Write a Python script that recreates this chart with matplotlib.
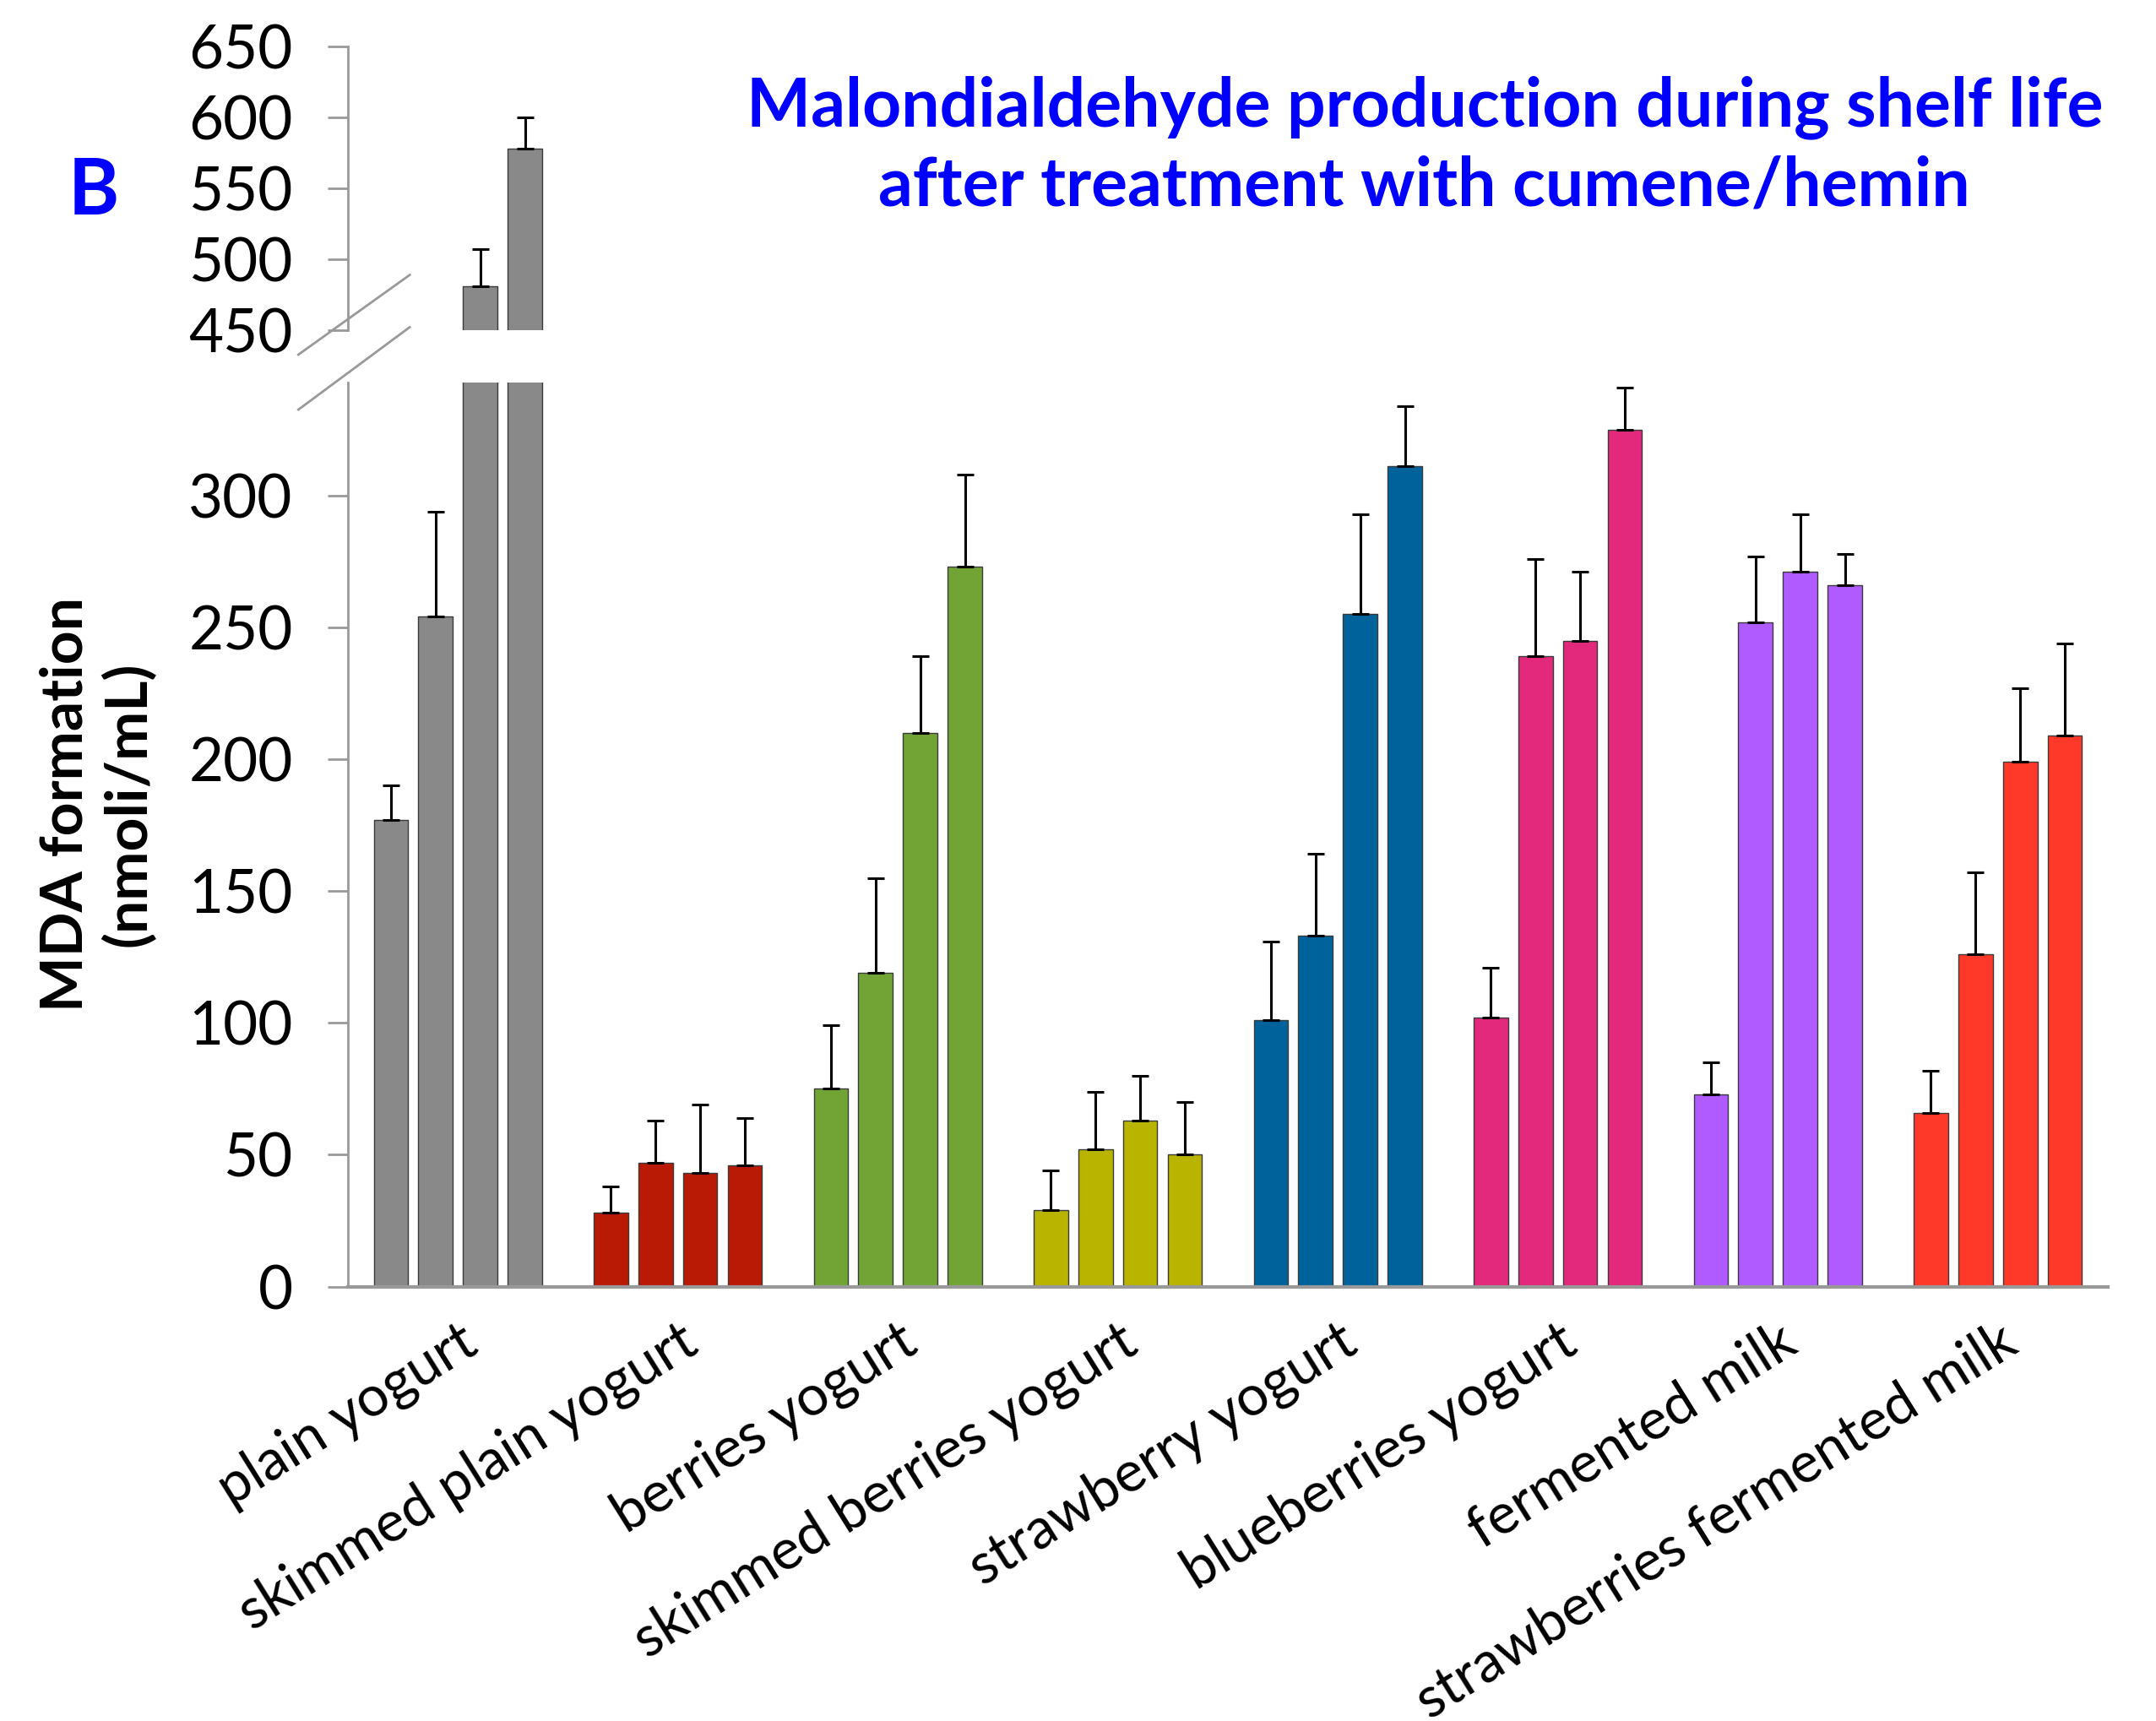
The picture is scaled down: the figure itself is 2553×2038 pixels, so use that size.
import matplotlib
matplotlib.use("Agg")
import matplotlib.pyplot as plt
import numpy as np
from matplotlib.lines import Line2D

categories = ["plain yogurt", "skimmed plain yogurt", "berries yogurt",
              "skimmed berries yogurt", "strawberry yogurt", "blueberries yogurt",
              "fermented milk", "strawberries fermented milk"]
colors = ["#898989", "#B81A05", "#72A435", "#B8B400", "#00629B", "#E2297C",
          "#B05BFF", "#FF3929"]

# four time points per product
values = [
    [177, 254, 481, 578],
    [28, 47, 43, 46],
    [75, 119, 210, 273],
    [29, 52, 63, 50],
    [101, 133, 255, 311],
    [102, 239, 245, 325],
    [73, 252, 271, 266],
    [66, 126, 199, 209],
]
errors = [
    [13, 40, 26, 22],
    [10, 16, 26, 18],
    [24, 36, 29, 35],
    [15, 22, 17, 20],
    [30, 31, 38, 23],
    [19, 37, 26, 16],
    [12, 25, 22, 12],
    [16, 31, 28, 35],
]

bottom_ticks = [0, 50, 100, 150, 200, 250, 300]
top_ticks = [450, 500, 550, 600, 650]

plt.rcParams['font.family'] = ['Lato', 'DejaVu Sans']

W, H = 2553, 2038
fig = plt.figure(figsize=(W / 100, H / 100), dpi=100)

axl = 253 / 1568
axr = 1533 / 1568
ax = fig.add_axes([axl, 1 - 936 / 1252, axr - axl, (936 - 278) / 1252])
axt = fig.add_axes([axl, 1 - 240 / 1252, axr - axl, (240 - 34) / 1252])

pitch = 0.203
width = 0.156
offsets = np.array([-1.5, -0.5, 0.5, 1.5]) * pitch
spine_c = "#999999"

for a in (ax, axt):
    for i, (vals, errs) in enumerate(zip(values, errors)):
        xs = i + offsets
        a.bar(xs, vals, width=width, color=colors[i], edgecolor="#3a3a3a",
              linewidth=1.0, zorder=2)
        a.errorbar(xs, vals, yerr=[np.zeros(4), errs], fmt="none",
                   ecolor="black", elinewidth=2.2, capsize=7, capthick=2.2,
                   zorder=3)
    a.set_xlim(-0.5, len(categories) - 0.5)
    a.spines['top'].set_visible(False)
    a.spines['right'].set_visible(False)
    a.spines['left'].set_color(spine_c)
    a.spines['left'].set_linewidth(2)
    a.tick_params(axis='y', direction='out', length=17, width=2,
                  color=spine_c, labelsize=51, pad=30)

ax.set_ylim(0, 343)
ax.set_yticks(bottom_ticks)
ax.spines['bottom'].set_color(spine_c)
ax.spines['bottom'].set_linewidth(3)
ax.set_xticks(np.arange(len(categories)))
ax.set_xticklabels(categories, rotation=32, ha='right', va='top',
                   rotation_mode='anchor', fontsize=48)
ax.tick_params(axis='x', length=0, pad=24)

axt.set_ylim(450, 650)
axt.set_yticks(top_ticks)
axt.spines['bottom'].set_visible(False)
axt.set_xticks([])

# axis break marks
for (x0, y0, x1, y1) in [(217, 258, 298, 200), (217, 298, 298, 238)]:
    fig.add_artist(Line2D([x0 / 1568, x1 / 1568], [1 - y0 / 1252, 1 - y1 / 1252],
                          color=spine_c, lw=2, transform=fig.transFigure))

fig.text(1036 / 1568, 1 - 106.5 / 1252,
         "Malondialdehyde production during shelf life\nafter treatment with cumene/hemin",
         ha='center', va='center', color='#0000FF', fontsize=58,
         fontweight='bold', linespacing=1.31)
fig.text(68 / 1568, 1 - 140 / 1252, "B", ha='center', va='center',
         color='#0000FF', fontsize=66, fontweight='bold')
fig.text(71 / 1568, 1 - 585 / 1252, "MDA formation\n(nmoli/mL)", ha='center',
         va='center', rotation=90, fontsize=50, fontweight='bold',
         linespacing=1.2)

fig.savefig("out.png", dpi=100)
